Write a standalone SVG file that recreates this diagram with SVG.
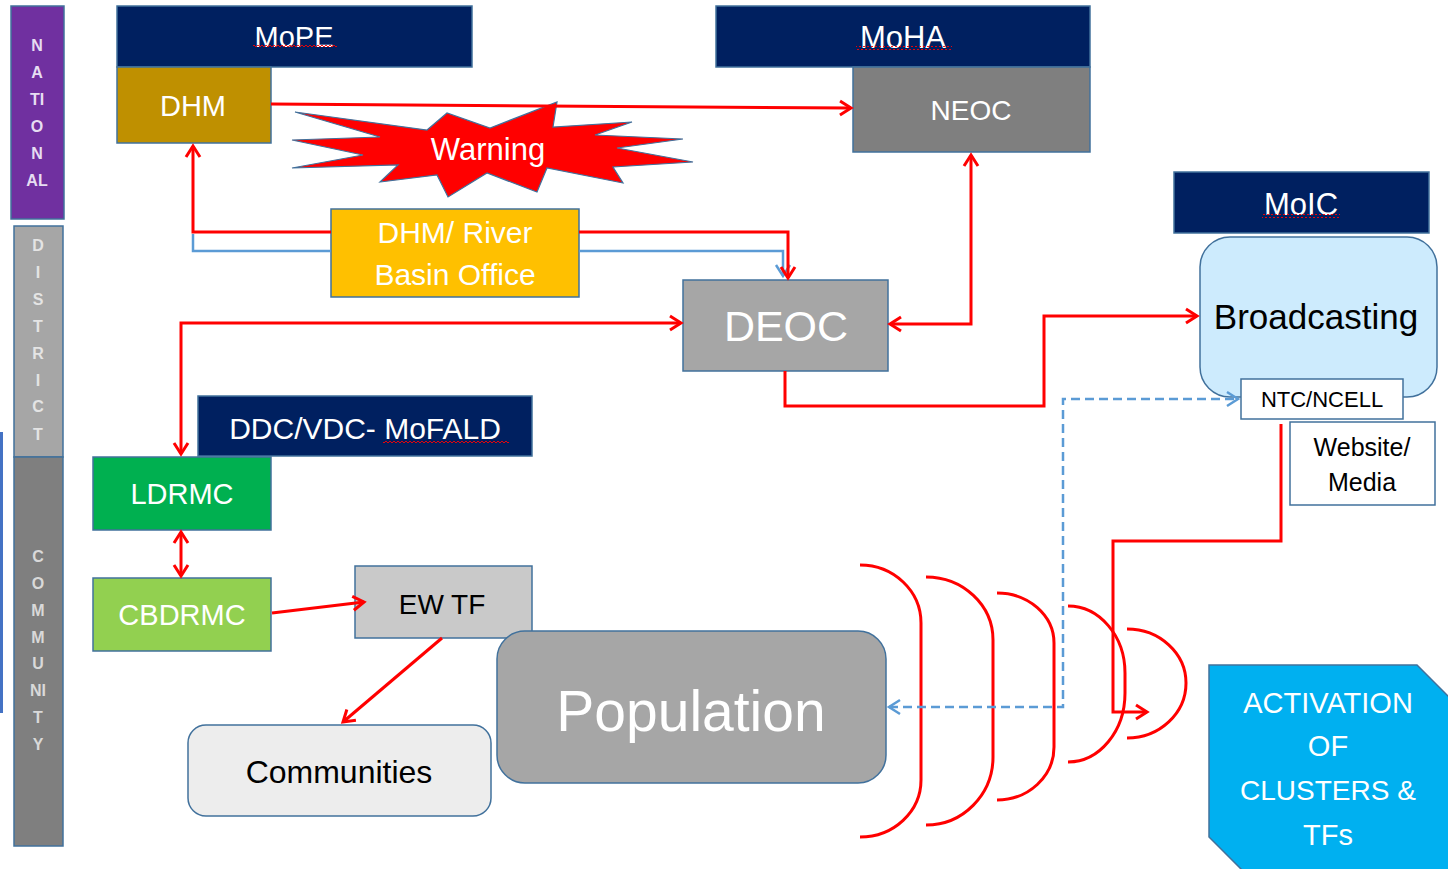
<svg xmlns="http://www.w3.org/2000/svg" width="1448" height="869" viewBox="0 0 1448 869">
<style>
.box{stroke:#41719C;stroke-width:1.5}
.t{font-family:"Liberation Sans",Arial,sans-serif;text-anchor:middle;dominant-baseline:central}
.w{fill:#FFFFFF}
.k{fill:#000000}
.side{font-family:"Liberation Sans",Arial,sans-serif;font-weight:bold;font-size:16px;text-anchor:middle;dominant-baseline:central}
.red{fill:none;stroke:#FF0000;stroke-width:3}
.blue{fill:none;stroke:#5B9BD5;stroke-width:2.5}
.dash{stroke-dasharray:9 5}
.wave{fill:none;stroke:#FF0000;stroke-width:3}
</style>
<defs>
<marker id="ar" viewBox="0 0 16 18" refX="13" refY="9" markerWidth="16" markerHeight="18" markerUnits="userSpaceOnUse" orient="auto-start-reverse">
<path d="M2,2 L13,9 L2,16" fill="none" stroke="#FF0000" stroke-width="3"/>
</marker>
<marker id="ab" viewBox="0 0 16 18" refX="13" refY="9" markerWidth="16" markerHeight="18" markerUnits="userSpaceOnUse" orient="auto-start-reverse">
<path d="M2,2 L13,9 L2,16" fill="none" stroke="#5B9BD5" stroke-width="2.5"/>
</marker>
<pattern id="sq" width="4" height="4" patternUnits="userSpaceOnUse">
<path d="M0,3 L2,1 L4,3" fill="none" stroke="#FF0000" stroke-width="0.9"/>
</pattern>
</defs>
<rect width="1448" height="869" fill="#FFFFFF"/>

<!-- side bars -->
<rect x="0" y="432" width="3" height="281" fill="#4472C4"/>
<g id="national">
<rect class="box" x="11" y="6" width="53" height="213" fill="#7030A0"/>
<g class="side" fill="#E6DDF2">
<text x="37" y="45">N</text><text x="37" y="72">A</text><text x="37" y="99">TI</text><text x="37" y="126">O</text><text x="37" y="153">N</text><text x="37" y="180">AL</text>
</g>
</g>
<g id="district">
<rect class="box" x="14" y="226" width="49" height="231" fill="#A6A6A6"/>
<g class="side" fill="#E4E4E4">
<text x="38" y="245">D</text><text x="38" y="272">I</text><text x="38" y="299">S</text><text x="38" y="326">T</text><text x="38" y="353">R</text><text x="38" y="380">I</text><text x="38" y="406">C</text><text x="38" y="434">T</text>
</g>
</g>
<g id="community">
<rect class="box" x="14" y="457" width="49" height="389" fill="#7F7F7F"/>
<g class="side" fill="#D9D9D9">
<text x="38" y="556">C</text><text x="38" y="583">O</text><text x="38" y="610">M</text><text x="38" y="637">M</text><text x="38" y="663">U</text><text x="38" y="690">NI</text><text x="38" y="717">T</text><text x="38" y="744">Y</text>
</g>
</g>

<!-- nodes -->
<g id="mope">
<rect class="box" x="117" y="6" width="355" height="61" fill="#002060"/>
<text class="t w" x="294" y="37" font-size="29">MoPE</text>
<rect x="253" y="45" width="84" height="4" fill="url(#sq)"/>
</g>
<g id="dhm">
<rect class="box" x="117" y="67" width="154" height="76" fill="#BF9000"/>
<text class="t w" x="193" y="106" font-size="29">DHM</text>
</g>
<g id="moha">
<rect class="box" x="716" y="6" width="374" height="61" fill="#002060"/>
<text class="t w" x="903" y="37" font-size="31">MoHA</text>
<rect x="856" y="46" width="96" height="4" fill="url(#sq)"/>
</g>
<g id="neoc">
<rect class="box" x="853" y="67" width="237" height="85" fill="#7F7F7F"/>
<text class="t w" x="971" y="110" font-size="28">NEOC</text>
</g>
<g id="warning">
<polygon points="295,112 427,130 447,113 490,128 557,102 553,127 632,122 595,135 683,139 617,148 693,162 613,167 623,183 547,168 537,192 487,173 448,197 437,175 380,182 398,165 292,168 363,155 292,140 380,137" fill="#FF0000" stroke="#41719C" stroke-width="1.2" stroke-linejoin="miter"/>
<text class="t w" x="488" y="149" font-size="31">Warning</text>
</g>
<g id="rbo">
<rect class="box" x="331" y="209" width="248" height="88" fill="#FFC000"/>
<text class="t w" x="455" y="232" font-size="30">DHM/ River</text>
<text class="t w" x="455" y="274" font-size="30">Basin Office</text>
</g>
<g id="deoc">
<rect class="box" x="683" y="280" width="205" height="91" fill="#A6A6A6"/>
<text class="t w" x="786" y="326" font-size="43">DEOC</text>
</g>
<g id="moic">
<rect class="box" x="1174" y="172" width="255" height="61" fill="#002060"/>
<text class="t w" x="1301" y="204" font-size="31">MoIC</text>
<rect x="1262" y="214" width="78" height="4" fill="url(#sq)"/>
</g>
<g id="broadcasting">
<rect class="box" x="1200" y="237" width="237" height="160" rx="30" fill="#CDEBFD"/>
<text class="t k" x="1316" y="316" font-size="35">Broadcasting</text>
</g>
<g id="ntc">
<rect class="box" x="1241" y="379" width="162" height="40" fill="#FFFFFF"/>
<text class="t k" x="1322" y="399" font-size="22">NTC/NCELL</text>
</g>
<g id="website">
<rect class="box" x="1290" y="422" width="145" height="83" fill="#FFFFFF"/>
<text class="t k" x="1362" y="447" font-size="25">Website/</text>
<text class="t k" x="1362" y="482" font-size="25">Media</text>
</g>
<g id="mofald">
<rect class="box" x="198" y="396" width="334" height="60" fill="#002060"/>
<text class="t w" x="365" y="428" font-size="30">DDC/VDC- MoFALD</text>
<rect x="383" y="441" width="126" height="4" fill="url(#sq)"/>
</g>
<g id="ldrmc">
<rect class="box" x="93" y="457" width="178" height="73" fill="#00B050"/>
<text class="t w" x="182" y="494" font-size="29">LDRMC</text>
</g>
<g id="cbdrmc">
<rect class="box" x="93" y="578" width="178" height="73" fill="#92D050"/>
<text class="t w" x="182" y="615" font-size="29">CBDRMC</text>
</g>
<g id="ewtf">
<rect class="box" x="355" y="566" width="177" height="72" fill="#C9C9C9"/>
<text class="t k" x="442" y="604" font-size="28">EW TF</text>
</g>
<g id="communities">
<rect class="box" x="188" y="725" width="303" height="91" rx="18" fill="#EDEDED"/>
<text class="t k" x="339" y="772" font-size="32">Communities</text>
</g>
<g id="population">
<rect class="box" x="497" y="631" width="389" height="152" rx="28" fill="#A6A6A6"/>
<text class="t w" x="691" y="711" font-size="57">Population</text>
</g>
<g id="activation">
<polygon class="box" points="1209,665 1417,665 1452,700 1452,875 1247,875 1209,837" fill="#00B0F0"/>
<text class="t w" x="1328" y="703" font-size="29">ACTIVATION</text>
<text class="t w" x="1328" y="746" font-size="29">OF</text>
<text class="t w" x="1328" y="790" font-size="28">CLUSTERS &amp;</text>
<text class="t w" x="1328" y="835" font-size="29">TFs</text>
</g>

<!-- waves -->
<g id="waves">
<path class="wave" d="M860,565 A61,58 0 0 1 921,623 L921,780 A61,57 0 0 1 860,837"/>
<path class="wave" d="M926,577 A67,63 0 0 1 993,640 L993,757 A67,68 0 0 1 926,825"/>
<path class="wave" d="M997,593 A57,50 0 0 1 1054,643 L1054,747 A57,53 0 0 1 997,800"/>
<path class="wave" d="M1068,606 A57,67 0 0 1 1125,673 L1125,693 A57,69 0 0 1 1068,762"/>
<path class="wave" d="M1127,629 A59,54 0 0 1 1186,683 A59,55 0 0 1 1127,738"/>
</g>

<!-- connectors -->
<g id="connectors">
<path class="blue" d="M331,251 L193,251 L193,234"/>
<path class="blue" d="M579,251 L783,251 L783,276" marker-end="url(#ab)"/>
<path class="red" d="M271,104 L851,108" marker-end="url(#ar)"/>
<path class="red" d="M331,232 L193,232 L193,146" marker-end="url(#ar)"/>
<path class="red" d="M579,232 L788,232 L788,278" marker-end="url(#ar)"/>
<path class="red" d="M971,155 L971,324 L890,324" marker-start="url(#ar)" marker-end="url(#ar)"/>
<path class="red" d="M181,454 L181,323 L681,323" marker-start="url(#ar)" marker-end="url(#ar)"/>
<path class="red" d="M785,371 L785,406 L1044,406 L1044,316 L1197,316" marker-end="url(#ar)"/>
<path class="red" d="M1281,424 L1281,541 L1113,541 L1113,712 L1147,712" marker-end="url(#ar)"/>
<path class="blue dash" d="M889,707 L1063,707 L1063,399 L1238,399" marker-start="url(#ab)" marker-end="url(#ab)"/>
<path class="red" d="M181,532 L181,576" marker-start="url(#ar)" marker-end="url(#ar)"/>
<path class="red" d="M272,613 L364,602" marker-end="url(#ar)"/>
<path class="red" d="M442,638 L343,722" marker-end="url(#ar)"/>
</g>
</svg>
